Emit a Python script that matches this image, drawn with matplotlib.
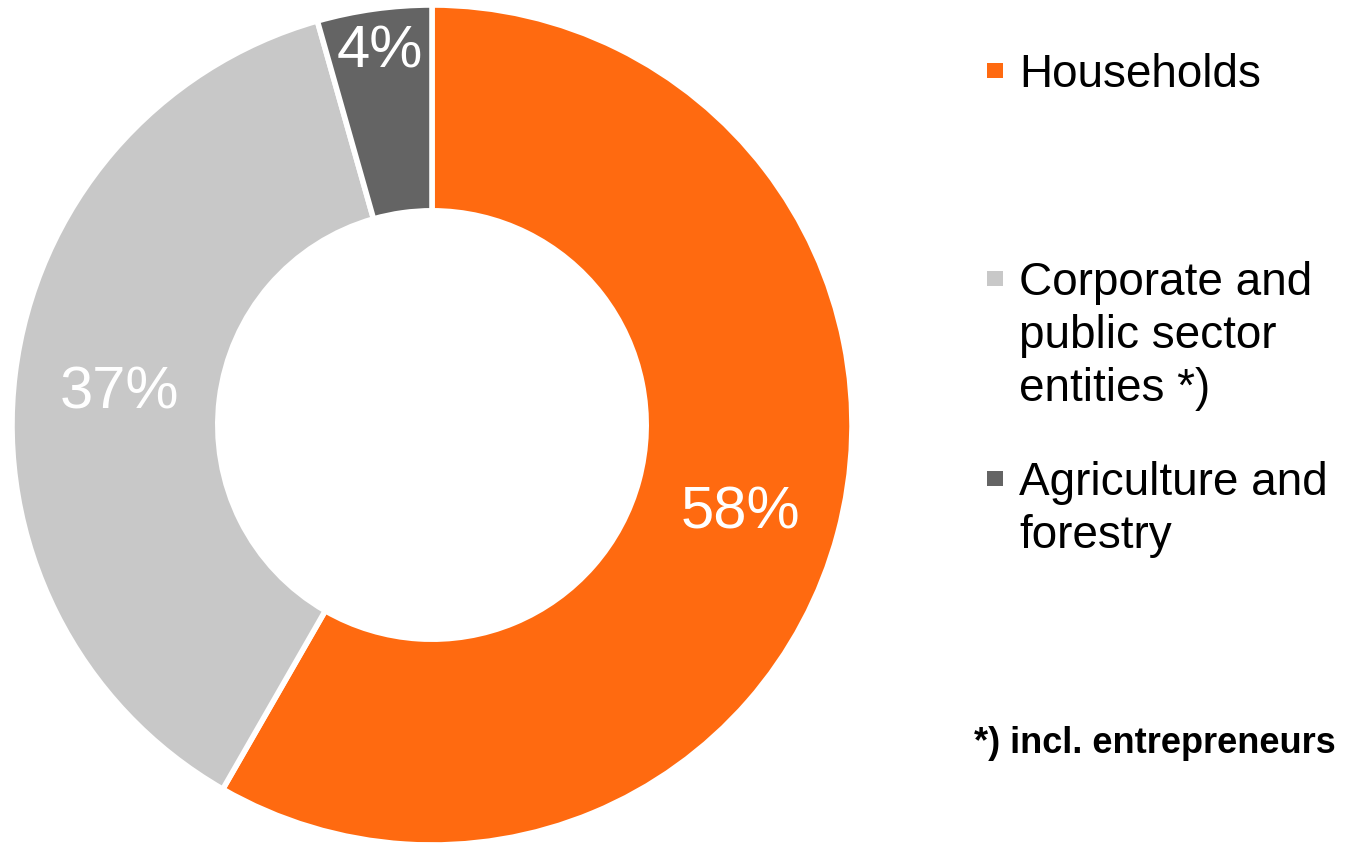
import numpy as np
import matplotlib.pyplot as plt
from matplotlib.patches import Rectangle

plt.rcParams['font.family'] = ['Liberation Sans', 'DejaVu Sans']

# data
categories = ['Households', 'Corporate and public sector entities *)', 'Agriculture and forestry']
shares = [58.3, 37.3, 4.4]
labels = ['58%', '37%', '4%']
legend_lines = [['Households'],
                ['Corporate and', 'public sector', 'entities *)'],
                ['Agriculture and', 'forestry']]
colors = ['#FF6A10', '#C8C8C8', '#646464']
footnote = '*) incl. entrepreneurs'

W, H = 1348, 844
fig = plt.figure(figsize=(W / 100, H / 100), dpi=100)

# donut centred at (432, 425) px, radius 420 px
cx, cy, r = 432, 425, 420
ax = fig.add_axes([(cx - r) / W, (H - cy - r) / H, 2 * r / W, 2 * r / H])
ax.pie(shares, colors=colors, startangle=90, counterclock=False,
       wedgeprops=dict(width=0.49, edgecolor='white', linewidth=4))
ax.set_xlim(-1, 1)
ax.set_ylim(-1, 1)
ax.axis('off')

# percent labels in the middle of each slice
label_r = [0.76, 0.75, 0.91]
frac = np.array(shares) / sum(shares)
start = 0.0
for f, lab, rr in zip(frac, labels, label_r):
    mid = (start + f / 2) * 2 * np.pi
    ax.text(rr * np.sin(mid), rr * np.cos(mid), lab, ha='center',
            va='center_baseline', color='white', fontsize=43)
    start += f

# legend drawn by hand
def fx(x):
    return x / W


def fy(y):
    return 1 - y / H


first_baselines = [87, 295, 495]
line_step = 53
for lines, col, base in zip(legend_lines, colors, first_baselines):
    fig.add_artist(Rectangle((fx(987), fy(base - 9)), 16 / W, 15 / H,
                             transform=fig.transFigure, color=col, lw=0))
    for i, line in enumerate(lines):
        fig.text(fx(1019), fy(base + i * line_step), line, fontsize=33,
                 ha='left', va='baseline', color='black')

fig.text(fx(1336), fy(753), footnote, fontsize=26, fontweight='bold',
         ha='right', va='baseline', color='black')

fig.savefig('out.png', dpi=100)
